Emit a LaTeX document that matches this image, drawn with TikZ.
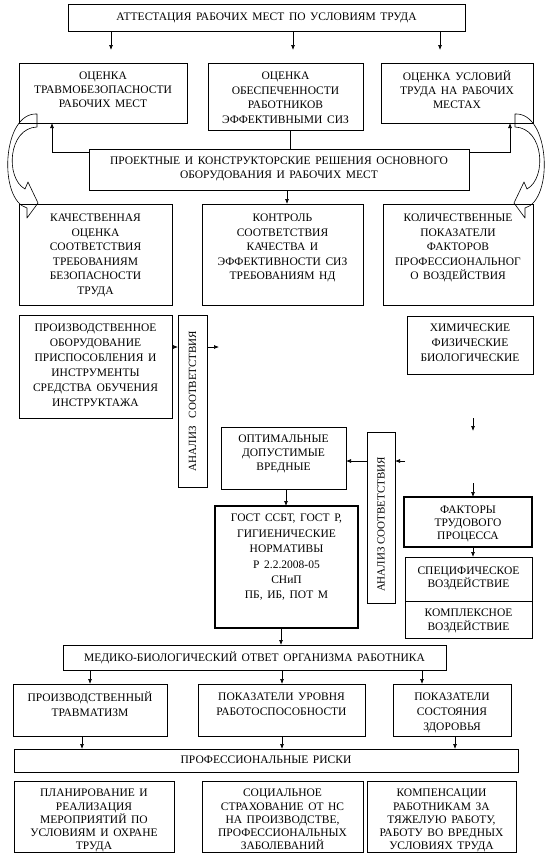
\documentclass[tikz,border=0pt]{standalone}
\usepackage{fontspec}
\setmainfont{Liberation Serif}
\usetikzlibrary{arrows.meta}
\newcommand\topstrut{\rule{0pt}{9pt}}
\newcommand\setfs[1]{\fontsize{11.5}{#1}\selectfont\spaceskip=4.6pt plus 1pt\relax}
\newcommand\mkbox[8]{%
  \node[bx, minimum width={#4-#2}, minimum height={#5-#3}] (#1) at ({(#2+#4)/2},{(#3+#5)/2}) {};
  \node[tx, font={\setfs{#7}}, yshift=-#6pt] (#1t) at (#1.north) {\topstrut #8};
}
\begin{document}
\begin{tikzpicture}[x=1pt,y=-1pt,
  bx/.style={draw, line width=0.7pt, inner sep=0pt, outer sep=0pt},
  tx/.style={align=center, inner sep=0pt, anchor=north},
  arr/.style={line width=0.7pt, -{Latex[length=5pt,width=4pt]}},
  ln/.style={line width=0.7pt},
  curv/.style={line width=0.6pt, line join=round},
  rot/.style={rotate=90, inner sep=0pt, font=\fontsize{11}{14}\selectfont}]
\useasboundingbox (0,0) rectangle (554,857);

\mkbox{top}{68}{4}{465}{31}{7.6}{14}{АТТЕСТАЦИЯ РАБОЧИХ МЕСТ ПО УСЛОВИЯМ ТРУДА}
\mkbox{r2L}{19}{63}{187}{123}{7.6}{14}{ОЦЕНКА\\ТРАВМОБЕЗОПАСНОСТИ\\РАБОЧИХ МЕСТ}
\mkbox{r2M}{208}{63}{363}{130}{7.6}{14.5}{ОЦЕНКА\\ОБЕСПЕЧЕННОСТИ\\РАБОТНИКОВ\\ЭФФЕКТИВНЫМИ СИЗ}
\mkbox{r2R}{381}{63}{533}{123}{7.6}{14}{ОЦЕНКА УСЛОВИЙ\\ТРУДА НА РАБОЧИХ\\МЕСТАХ}
\mkbox{proj}{89}{149}{469}{190}{6.6}{14}{ПРОЕКТНЫЕ И КОНСТРУКТОРСКИЕ РЕШЕНИЯ ОСНОВНОГО\\ОБОРУДОВАНИЯ И РАБОЧИХ МЕСТ}
\mkbox{r3L}{19}{204}{172}{305}{8.6}{14.5}{КАЧЕСТВЕННАЯ\\ОЦЕНКА\\СООТВЕТСТВИЯ\\ТРЕБОВАНИЯМ\\БЕЗОПАСНОСТИ\\ТРУДА}
\mkbox{r3M}{202}{204}{363}{305}{8.6}{14.5}{КОНТРОЛЬ\\СООТВЕТСТВИЯ\\КАЧЕСТВА И\\ЭФФЕКТИВНОСТИ СИЗ\\ТРЕБОВАНИЯМ НД}
\mkbox{r3R}{383}{204}{533}{305}{8.6}{14.5}{КОЛИЧЕСТВЕННЫЕ\\ПОКАЗАТЕЛИ\\ФАКТОРОВ\\ПРОФЕССИОНАЛЬНОГ\\О ВОЗДЕЙСТВИЯ}
\mkbox{r4L}{19}{315}{172}{418}{7.6}{15}{ПРОИЗВОДСТВЕННОЕ\\ОБОРУДОВАНИЕ\\ПРИСПОСОБЛЕНИЯ И\\ИНСТРУМЕНТЫ\\СРЕДСТВА ОБУЧЕНИЯ\\ИНСТРУКТАЖА}
\node[bx, minimum width=29, minimum height=172] (an1) at (192.5,401) {};
\node[rot] (an1t) at (an1.center) {АНАЛИЗ\ \ \ СООТВЕТСТВИЯ};
\mkbox{chem}{407}{316}{533}{374}{6.6}{15}{ХИМИЧЕСКИЕ\\ФИЗИЧЕСКИЕ\\БИОЛОГИЧЕСКИЕ}
\mkbox{opt}{221}{427}{346}{489}{6.6}{14}{ОПТИМАЛЬНЫЕ\\ДОПУСТИМЫЕ\\ВРЕДНЫЕ}
\node[bx, minimum width=28, minimum height=171] (an2) at (381,517.5) {};
\node[rot] (an2t) at (381,524.5) {АНАЛИЗ СООТВЕТСТВИЯ};
\mkbox{fact}{404}{497}{532}{547}{7.6}{13}{ФАКТОРЫ\\ТРУДОВОГО\\ПРОЦЕССА}
\mkbox{spec}{405}{557}{532}{601}{8.6}{13}{СПЕЦИФИЧЕСКОЕ\\ВОЗДЕЙСТВИЕ}
\mkbox{compl}{405}{601}{532}{638}{6.6}{14}{КОМПЛЕКСНОЕ\\ВОЗДЕЙСТВИЕ}
\mkbox{gost}{215}{506}{358}{628}{6.6}{15.4}{ГОСТ ССБТ, ГОСТ Р,\\ГИГИЕНИЧЕСКИЕ\\НОРМАТИВЫ\\Р 2.2.2008-05\\СНиП\\ПБ, ИБ, ПОТ М}
\draw[line width=1.3pt] (gost.north west) rectangle (gost.south east);
\draw[line width=1.1pt] (fact.north west) rectangle (fact.south east);
\mkbox{med}{63}{645}{446}{670}{7}{14}{МЕДИКО-БИОЛОГИЧЕСКИЙ ОТВЕТ ОРГАНИЗМА РАБОТНИКА}
\mkbox{r6L}{13}{684}{167}{736}{7.6}{15}{ПРОИЗВОДСТВЕННЫЙ\\ТРАВМАТИЗМ}
\mkbox{r6M}{198}{684}{365}{736}{7.6}{15}{ПОКАЗАТЕЛИ УРОВНЯ\\РАБОТОСПОСОБНОСТИ}
\mkbox{r6R}{393}{684}{511}{736}{7.6}{15}{ПОКАЗАТЕЛИ\\СОСТОЯНИЯ\\ЗДОРОВЬЯ}
\mkbox{risk}{14}{749}{518}{772}{5.6}{14}{ПРОФЕССИОНАЛЬНЫЕ РИСКИ}
\mkbox{r8L}{14}{781}{174}{852}{6.6}{13.2}{ПЛАНИРОВАНИЕ И\\РЕАЛИЗАЦИЯ\\МЕРОПРИЯТИЙ ПО\\УСЛОВИЯМ И ОХРАНЕ\\ТРУДА}
\mkbox{r8M}{202}{781}{363}{852}{6.6}{13.2}{СОЦИАЛЬНОЕ\\СТРАХОВАНИЕ ОТ НС\\НА ПРОИЗВОДСТВЕ,\\ПРОФЕССИОНАЛЬНЫХ\\ЗАБОЛЕВАНИЙ}
\mkbox{r8R}{367}{781}{516}{852}{6.6}{13.2}{КОМПЕНСАЦИИ\\РАБОТНИКАМ ЗА\\ТЯЖЕЛУЮ РАБОТУ,\\РАБОТУ ВО ВРЕДНЫХ\\УСЛОВИЯХ ТРУДА}

% connectors
\coordinate (a1) at (111,50); \coordinate (a2) at (293,50); \coordinate (a3) at (440,50);
\draw[arr] (top.south -| a1) -- (a1);
\draw[arr] (top.south -| a2) -- (a2);
\draw[arr] (top.south -| a3) -- (a3);
\coordinate (m1) at (290,0);
\draw[ln] (r2M.south -| m1) -- (proj.north -| m1);
\coordinate (c1) at (52,152); \coordinate (c2) at (510,152);
\draw[arr] (proj.west |- c1) -- (c1) -- (c1 |- r2L.south);
\draw[arr] (proj.east |- c2) -- (c2) -- (c2 |- r2R.south);
\coordinate (c3) at (287,0);
\draw[arr] (proj.south -| c3) -- (r3M.north -| c3);
\coordinate (c4) at (0,347); \coordinate (c5) at (219,347);
\draw[arr] (r4L.east |- c4) -- (an1.west |- c4);
\draw[arr] (an1.east |- c5) -- (c5);
\coordinate (c6a) at (473,418); \coordinate (c6b) at (473,431);
\draw[arr] (c6a) -- (c6b);
\coordinate (c7) at (473,483);
\draw[arr] (c7) -- (fact.north -| c7);
\draw[arr] (fact.south -| c7) -- (spec.north -| c7);
\coordinate (c8) at (405,461);
\draw[arr] (c8) -- (an2.east |- c8);
\draw[arr] (an2.west |- c8) -- (opt.east |- c8);
\coordinate (c9) at (286,0); \coordinate (c10) at (281,0);
\draw[arr] (opt.south -| c9) -- (gost.north -| c9);
\draw[arr] (gost.south -| c10) -- (med.north -| c10);
\foreach \xx in {90,282,422} {\coordinate (t) at (\xx,0); \draw[arr] (med.south -| t) -- (r6L.north -| t);}
\foreach \xx in {82,282,455} {\coordinate (t) at (\xx,0); \draw[arr] (r6L.south -| t) -- (risk.north -| t);}

% curved block arrows
\draw[curv] (37,114) .. controls (2,112) and (-2,200) .. (27,208) -- (27,218) -- (38,203) -- (28,182) -- (25,189)
  .. controls (5,178) and (8,128) .. (37,127) -- cycle;
\draw[curv] (515,114) .. controls (550,112) and (554,200) .. (525,208) -- (525,218) -- (514,203) -- (524,182) -- (527,189)
  .. controls (547,178) and (544,128) .. (515,127) -- cycle;
\end{tikzpicture}
\end{document}
